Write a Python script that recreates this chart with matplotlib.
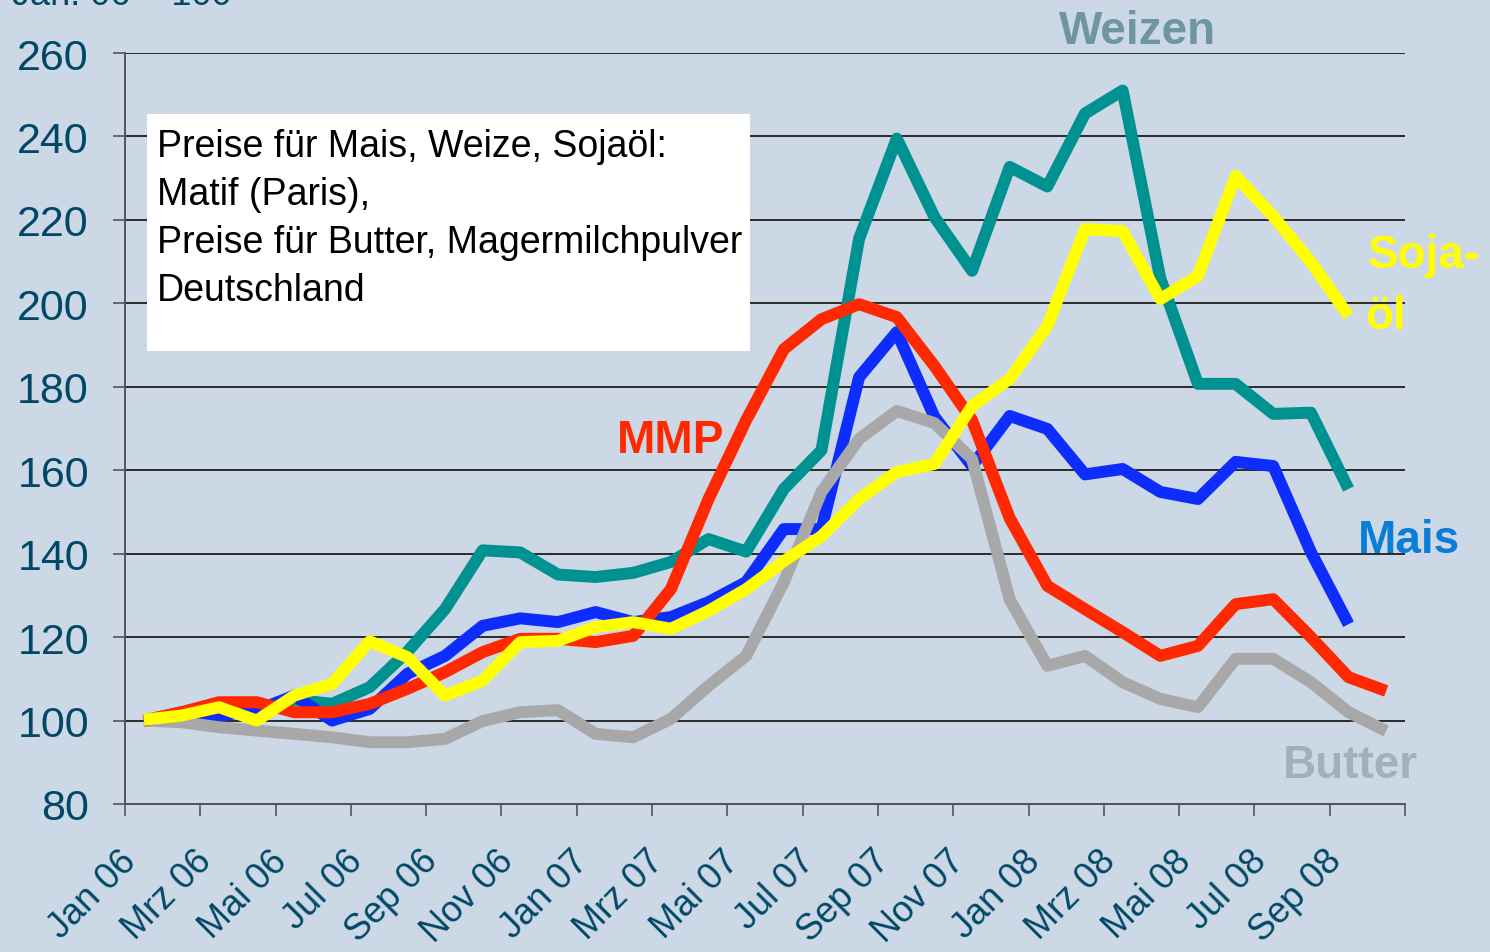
import numpy as np
import matplotlib.pyplot as plt
from matplotlib.patches import Rectangle

plt.rcParams['font.family'] = ['Liberation Sans', 'DejaVu Sans']

# monthly index, Jan 06 = 100
months = ["Jan 06", "Feb 06", "Mrz 06", "Apr 06", "Mai 06", "Jun 06", "Jul 06", "Aug 06",
          "Sep 06", "Okt 06", "Nov 06", "Dez 06", "Jan 07", "Feb 07", "Mrz 07", "Apr 07",
          "Mai 07", "Jun 07", "Jul 07", "Aug 07", "Sep 07", "Okt 07", "Nov 07", "Dez 07",
          "Jan 08", "Feb 08", "Mrz 08", "Apr 08", "Mai 08", "Jun 08", "Jul 08", "Aug 08",
          "Sep 08", "Okt 08"]

weizen = [100, 102, 102, 103, 105, 104, 108, 116.5, 126.7, 140.8, 140.3, 135, 134.4,
          135.4, 138, 143.5, 140.5, 155.5, 164.8, 215.5, 239.5, 220.7, 207.8, 232.7,
          228, 245.5, 251, 206, 180.7, 180.7, 173.5, 173.8, 155.5]
mais = [100, 101, 101.2, 102.4, 106, 100, 102.8, 111.2, 115.5, 122.7, 124.5, 123.6, 126,
        123.6, 124.8, 128.4, 133.2, 145.9, 145.9, 182.3, 193.1, 172.8, 161, 173, 169.9,
        159, 160.3, 154.8, 153.1, 162, 161, 140.4, 123.1]
butter = [100, 99.6, 98.4, 97.6, 96.8, 96, 94.8, 94.8, 95.6, 99.9, 102, 102.5, 96.8, 96,
          100.4, 108.3, 115.5, 133.2, 154.8, 167.5, 174.2, 171.3, 162.7, 129, 113.1,
          115.5, 109.2, 105.2, 103.2, 114.8, 114.8, 109.2, 102, 97.5]
mmp = [100, 102, 104.4, 104.4, 102, 102, 104, 107.6, 111.6, 116.4, 119.6, 119.6, 118.8,
       120.3, 131.5, 153.1, 172, 189, 196.2, 199.8, 196.7, 185, 172, 148.5, 132.3, 126.7,
       121.2, 115.5, 117.9, 127.9, 129.1, 120, 110.4, 107.1]
soja = [100.2, 101.2, 103.2, 100, 106, 108.8, 119, 115.2, 106, 109.6, 118.8, 119.1, 122.4,
        123.6, 122, 126.3, 131.5, 138.2, 144.2, 153.1, 159.6, 161.5, 175.4, 181.9, 194.6,
        217.8, 217.3, 201, 206.6, 230.5, 220.9, 209.9, 197]

box_lines = ["Preise für Mais, Weize, Sojaöl:", "Matif (Paris),",
             "Preise für Butter, Magermilchpulver", "Deutschland"]

bg = "#CCD8E5"
tick_col = "#004866"

fig = plt.figure(figsize=(14.9, 9.53), dpi=100)
fig.patch.set_facecolor(bg)
ax = fig.add_subplot(111)
fig.subplots_adjust(left=125/1490, right=1405/1490, bottom=1-805/953, top=1-54/953)
ax.set_facecolor(bg)

lw = 8.6
kw = dict(lw=lw, solid_joinstyle="round", solid_capstyle="butt")
ax.plot(np.arange(len(weizen)), weizen, color="#009191", zorder=3, **kw)
ax.plot(np.arange(len(mais)), mais, color="#0D2DFF", zorder=4, **kw)
ax.plot(np.arange(len(butter)), butter, color="#A8A8A8", zorder=5, **kw)
ax.plot(np.arange(len(mmp)), mmp, color="#FF2800", zorder=6, **kw)
ax.plot(np.arange(len(soja)), soja, color="#FFFF00", zorder=7, **kw)

ax.set_xlim(-0.5, len(months) - 0.5)
ax.set_ylim(80, 260)
ax.set_yticks(np.arange(80, 261, 20))
ax.yaxis.grid(True, color="#2A2A2A", lw=1.4)
ax.set_axisbelow(True)

# tick marks between categories, labels at every second month
ax.set_xticks(np.arange(-0.5, len(months), 2))
ax.set_xticklabels([])
ax.set_xticks(np.arange(0, len(months) - 1, 2) - 0.33, minor=True)
ax.set_xticklabels(months[0:len(months) - 1:2], minor=True, rotation=45, ha="right",
                   va="center", rotation_mode="anchor")
ax.tick_params(axis="x", which="major", direction="out", length=8.5, width=1.2, color="#555555")
ax.tick_params(axis="x", which="minor", length=0, pad=37, labelsize=26, labelcolor=tick_col)
ax.tick_params(axis="y", direction="out", length=9, width=1.2, color="#555555",
               pad=17, labelsize=31, labelcolor=tick_col)

for s in ["top", "right"]:
    ax.spines[s].set_visible(False)
for s in ["left", "bottom"]:
    ax.spines[s].set_color("#555555")
    ax.spines[s].set_linewidth(1.4)

# white info box
fig.patches.append(Rectangle((147/1490, 1-352/953), 603/1490, 237/953, transform=fig.transFigure,
                             facecolor="white", edgecolor="none", zorder=2))
for i, t in enumerate(box_lines):
    fig.text(157/1490, 1 - (147 + 48*i)/953, t, fontsize=27, color="black",
             ha="left", va="center", zorder=3)

# series labels
lab = dict(fontsize=33, fontweight="bold", clip_on=False, zorder=8)
ax.text(26.4, 265.3, "Weizen", color="#6E96A0", ha="center", va="center", **lab)
ax.text(32.5, 211.6, "Soja-", color="#FFFF00", ha="left", va="center", **lab)
ax.text(32.45, 197, "öl", color="#FFFF00", ha="left", va="center", **lab)
ax.text(32.25, 143.3, "Mais", color="#0A7DD7", ha="left", va="center", **lab)
ax.text(30.26, 89.4, "Butter", color="#9EB1BC", ha="left", va="center", **lab)
ax.text(12.57, 167.3, "MMP", color="#FF2800", ha="left", va="center", **lab)

# unit note, cut off at the top edge as in the original slide
fig.text(232/1490, 1 - 5/953, "Jan. 06 = 100", fontsize=26, color=tick_col,
         ha="right", va="baseline")

fig.savefig("out.png", dpi=100, facecolor=bg)
